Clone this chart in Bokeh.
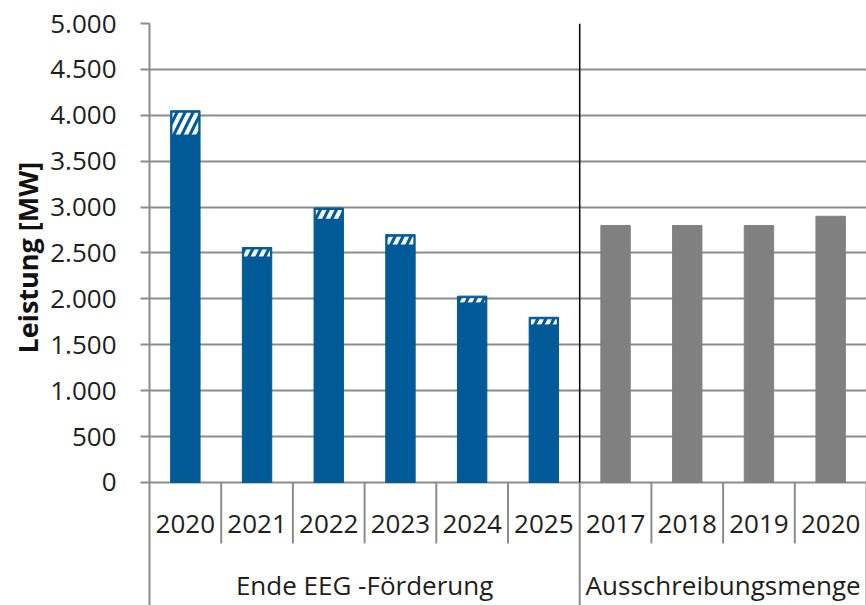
from bokeh.plotting import figure
from bokeh.models import Range1d, FixedTicker, Title
from bokeh.core.properties import value
from bokeh.embed import file_html
from bokeh.resources import INLINE

# ---- data ----
groups = ["Ende EEG -Förderung", "Ausschreibungsmenge"]
eeg_years = ["2020", "2021", "2022", "2023", "2024", "2025"]
eeg_base = [3770, 2440, 2850, 2570, 1940, 1700]
eeg_extra = [280, 120, 140, 130, 90, 100]
aus_years = ["2017", "2018", "2019", "2020"]
aus_values = [2800, 2800, 2800, 2900]
y_ticks = [0, 500, 1000, 1500, 2000, 2500, 3000, 3500, 4000, 4500, 5000]
y_label = "Leistung [MW]"

BLUE = "#005A98"
GRAY_BAR = "#808080"
GRID = "#8c8c8c"
FONT = "Open Sans"
FS = "26px"
TXT = "#1e1e1e"

n_eeg = len(eeg_years)
n_all = n_eeg + len(aus_years)
eeg_x = [i + 0.5 for i in range(n_eeg)]
aus_x = [n_eeg + i + 0.5 for i in range(len(aus_years))]

Y_MIN = -1340
p = figure(width=866, height=605, output_backend="svg", toolbar_location=None,
           x_range=Range1d(0, n_all), y_range=Range1d(Y_MIN, 5000),
           x_axis_location=None, min_border_left=149, min_border_top=23,
           min_border_right=0, min_border_bottom=0)
p.outline_line_color = None
p.xgrid.visible = False
p.ygrid.ticker = FixedTicker(ticks=y_ticks)
p.ygrid.grid_line_color = GRID
p.ygrid.grid_line_width = 2

ax = p.yaxis[0]
ax.ticker = FixedTicker(ticks=y_ticks)
ax.major_label_overrides = {t: f"{t:,}".replace(",", ".") for t in y_ticks}
ax.axis_line_color = GRID
ax.axis_line_width = 2
ax.major_tick_line_color = GRID
ax.major_tick_line_width = 2
ax.major_tick_out = 9
ax.major_tick_in = 0
ax.minor_tick_line_color = None
ax.major_label_standoff = 24
ax.major_label_text_font = FONT
ax.major_label_text_font_size = FS
ax.major_label_text_color = TXT

# y axis title in the left panel, placed over the 0..5000 span
p.add_layout(Title(text=y_label, align="left", offset=252, standoff=4,
                   text_font=FONT, text_font_size="27px", text_font_style="bold",
                   text_color="#111111"), "left")

W = 0.41
eeg_top = [b + e for b, e in zip(eeg_base, eeg_extra)]
# blue bars (full height) with hatched top segment overlay
p.vbar(x=eeg_x, top=eeg_top, bottom=0, width=W, fill_color=BLUE, line_color=BLUE)
p.vbar(x=eeg_x, top=[t - 22 for t in eeg_top], bottom=[b + 22 for b in eeg_base],
       width=W - 0.05, fill_alpha=0, line_color=None, hatch_pattern="/",
       hatch_color="white", hatch_weight=4, hatch_scale=16)
# gray bars
p.vbar(x=aus_x, top=aus_values, bottom=0, width=W, fill_color=GRAY_BAR, line_color=GRAY_BAR)

# separator between groups in plot area
p.segment(x0=[n_eeg], y0=[0], x1=[n_eeg], y1=[5000], line_color="black", line_width=1.5)

# category axis separators
inner = [i for i in range(1, n_all) if i != n_eeg]
YR_SEP = -664
p.segment(x0=inner, y0=[0] * len(inner), x1=inner, y1=[YR_SEP] * len(inner),
          line_color=GRID, line_width=2)
p.segment(x0=[n_eeg, n_all], y0=[0, 0], x1=[n_eeg, n_all], y1=[Y_MIN, Y_MIN],
          line_color=GRID, line_width=2)

# year labels
years_all = eeg_years + aus_years
p.text(x=eeg_x + aus_x, y=[-447] * n_all, text=years_all, text_align="center",
       text_baseline="middle", text_font=value(FONT), text_font_size=FS,
       text_color=TXT)
# group labels
p.text(x=[n_eeg / 2, n_eeg + len(aus_years) / 2], y=[-1122, -1122], text=groups,
       text_align="center", text_baseline="middle", text_font=value(FONT),
       text_font_size=FS, text_color=TXT)

open("out.html", "w").write(file_html(p, INLINE))
